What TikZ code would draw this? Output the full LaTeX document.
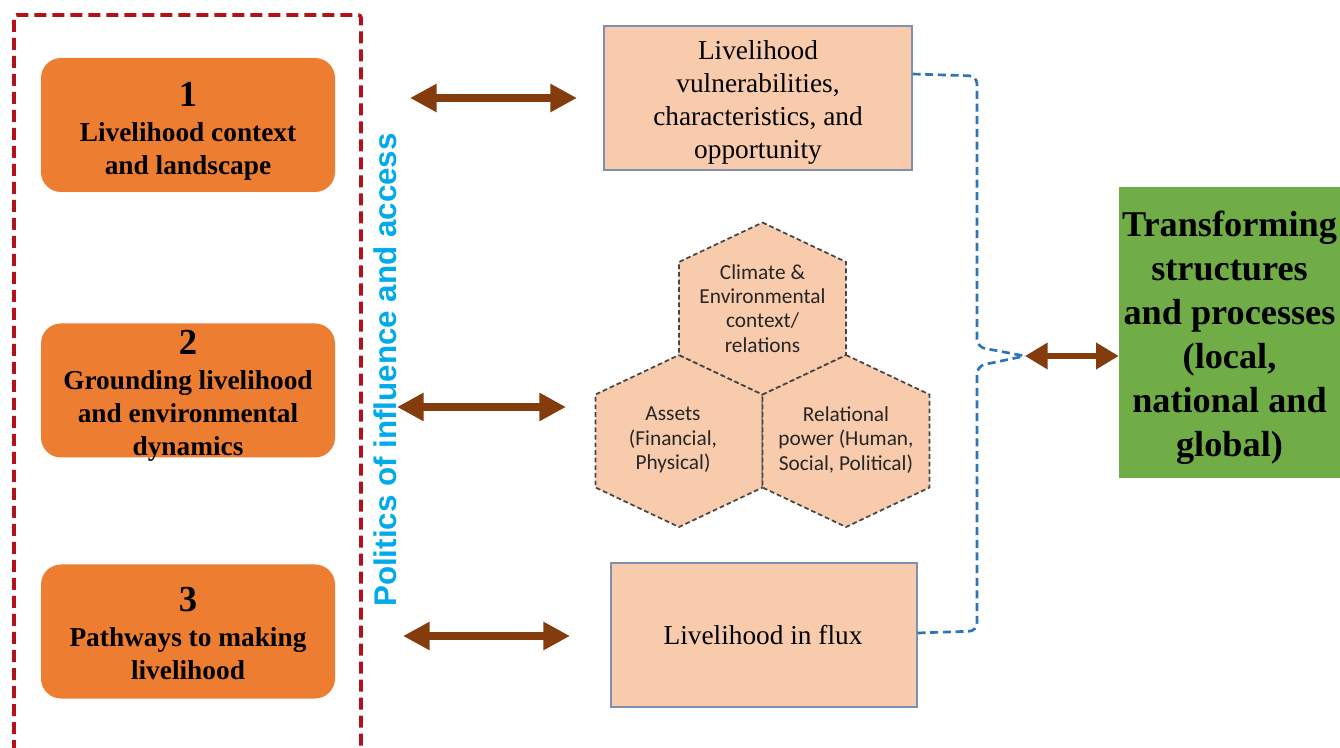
\documentclass[tikz,border=0pt]{standalone}
\usepackage{fontspec}
\setmainfont{Liberation Serif}
\newfontfamily\carlito{Carlito}
\newfontfamily\arialfont{Liberation Sans}
\usetikzlibrary{arrows.meta,calc}
\definecolor{borange}{RGB}{237,125,49}
\definecolor{peach}{RGB}{248,203,173}
\definecolor{lgreen}{RGB}{112,173,71}
\definecolor{brownarr}{RGB}{132,60,12}
\definecolor{darkred}{RGB}{178,18,28}
\definecolor{dblue}{RGB}{46,117,182}
\definecolor{skyblue}{RGB}{0,170,235}
\definecolor{boxline}{RGB}{125,145,175}
\definecolor{hexline}{RGB}{70,70,70}
\begin{document}
\begin{tikzpicture}[x=0.75pt,y=-0.75pt,
  obox/.style={fill=borange, rounded corners=15pt, minimum width=220.5pt, minimum height=100.5pt, inner sep=0pt},
  otext/.style={align=center, font=\bfseries\fontsize{20.5}{24.75}\selectfont, inner sep=0pt},
  pbox/.style={draw=boxline, line width=0.8pt, fill=peach, minimum width=231pt, minimum height=108pt, inner sep=0pt},
  ptext/.style={align=center, inner sep=0pt, font=\fontsize{20.5}{24.75}\selectfont},
  gbox/.style={fill=lgreen, minimum width=165.75pt, minimum height=218.25pt, inner sep=0pt},
  gtext/.style={align=center, inner sep=0pt, font=\bfseries\fontsize{27.2}{33}\selectfont},
  harrow/.style={draw=brownarr, line width=6pt, {Triangle[length=20pt,width=20pt]}-{Triangle[length=20pt,width=20pt]}},
  sarrow/.style={draw=brownarr, line width=5pt, {Triangle[length=17pt,width=19pt]}-{Triangle[length=17pt,width=19pt]}},
  hexstyle/.style={fill=peach, draw=hexline, line width=1.3pt, dash pattern=on 3.5pt off 2.2pt},
  hextext/.style={align=center, inner sep=0pt, font=\carlito\fontsize{16}{18.2}\selectfont, text=black!85},
  hexagon/.pic={\draw[hexstyle] (0,-86) -- (83.5,-46.5) -- (83.5,46.5) -- (0,86) -- (-83.5,46.5) -- (-83.5,-46.5) -- cycle;},
  redframe/.style={draw=darkred, line width=2.7pt, dash pattern=on 9pt off 4.5pt, rounded corners=2pt},
  bluebrace/.style={draw=dblue, line width=2pt, dash pattern=on 6pt off 3.5pt, rounded corners=6pt},
  poltext/.style={rotate=90, text=skyblue, inner sep=0pt, font=\arialfont\bfseries\fontsize{23.5}{28}\selectfont}
]
\useasboundingbox (0,0) rectangle (1340,748);
\fill[white] (0,0) rectangle (1340,748);

% left dashed frame
\draw[redframe] (14,770) -- (14,15) -- (361,15) -- (361,770);

% orange boxes
\node[obox] (b1) at (188,125) {};
\node[obox] (b2) at (188,390.5) {};
\node[obox] (b3) at (188,631.5) {};
\node[otext] (t1) at (188,131.5) {{\fontsize{27.5}{27.5}\selectfont 1}\\[1.5pt]Livelihood context\\and landscape};
\node[otext] (t2) at (188,395.5) {{\fontsize{27.5}{27.5}\selectfont 2}\\[1.5pt]Grounding livelihood\\and environmental\\dynamics};
\node[otext] (t3) at (188,633.5) {{\fontsize{27.5}{27.5}\selectfont 3}\\[1.5pt]Pathways to making\\livelihood};

% vertical label
\node[poltext] (pol) at (385,370) {Politics of influence and access};

% middle boxes
\node[pbox] (tb) at (758,98) {};
\node[ptext] (tbt) at (758,102) {Livelihood\\vulnerabilities,\\characteristics, and\\opportunity};
\node[pbox, minimum width=229.5pt] (bb) at (764,635) {};
\node[ptext] (bbt) at (763,635) {Livelihood in flux};

% hexagons
\pic at (679,441) {hexagon};
\pic at (846,441) {hexagon};
\pic at (762.5,308.5) {hexagon};
\node[hextext] (h1) at (762.5,308.5) {Climate \&\\Environmental\\context/\\relations};
\node[hextext] (h2) at (673,440) {Assets\\(Financial,\\Physical)};
\node[hextext] (h3) at (846,440) {Relational\\power (Human,\\Social, Political)};

% green box
\node[gbox] (gb) at (1229.5,332.5) {};
\node[gtext] (gbt) at (1229.5,338) {Transforming\\structures\\and processes\\(local,\\national and\\global)};

% brown arrows
\coordinate (l1) at (410,98);  \coordinate (r1) at (577,98);
\coordinate (l2) at (397,407); \coordinate (r2) at (566,407);
\coordinate (l3) at (403,636); \coordinate (r3) at (570,636);
\draw[harrow] (l1) -- (r1);
\draw[harrow] (l2) -- (r2);
\draw[harrow] (l3) -- (r3);

% blue brace
\coordinate (J) at (1025,356);
\draw[bluebrace] ([yshift=18pt]tb.east) -- (977,76) -- (977,347) -- (J);
\draw[bluebrace] ([yshift=1.5pt]bb.east) -- (977,631) -- (977,366) -- (J);
\draw[sarrow] (J) -- (J -| gb.west);
\end{tikzpicture}
\end{document}
